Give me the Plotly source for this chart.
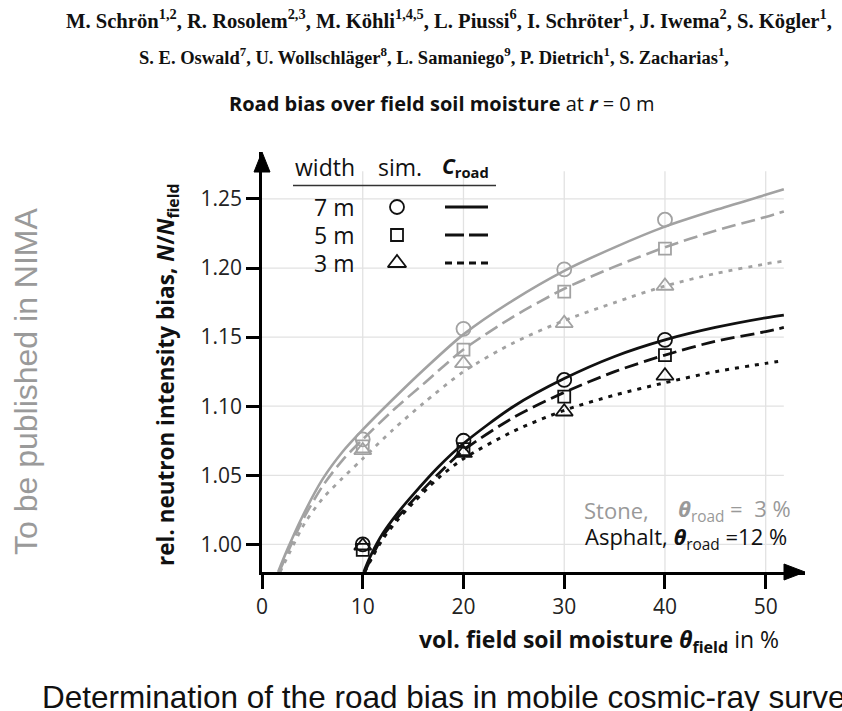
import plotly.graph_objects as go

# ---------------------------------------------------------------- data
theta_sim = [10, 20, 30, 40]

# simulated relative neutron intensity bias (markers)
stone_7m_sim = [1.076, 1.156, 1.199, 1.235]
stone_5m_sim = [1.071, 1.141, 1.183, 1.214]
stone_3m_sim = [1.068, 1.131, 1.160, 1.187]
asphalt_7m_sim = [1.000, 1.075, 1.119, 1.148]
asphalt_5m_sim = [0.996, 1.069, 1.107, 1.137]
asphalt_3m_sim = [0.999, 1.066, 1.096, 1.122]

# road correction curves C_road (stone, theta_road = 3 %)
stone_7m_x = [1.6, 2.5, 4, 6, 8, 10, 13, 16, 20, 25, 30, 35, 40, 45, 50, 51.8]
stone_7m_y = [0.980, 0.996, 1.020, 1.047, 1.067, 1.083, 1.105, 1.126, 1.152,
              1.177, 1.198, 1.215, 1.230, 1.242, 1.253, 1.257]
stone_5m_x = [1.7, 2.6, 4, 6, 8, 10, 13, 16, 20, 25, 30, 35, 40, 45, 50, 51.8]
stone_5m_y = [0.980, 0.995, 1.017, 1.042, 1.061, 1.076, 1.097, 1.116, 1.141,
              1.165, 1.185, 1.201, 1.215, 1.227, 1.237, 1.241]
stone_3m_x = [1.8, 2.8, 4.3, 6, 8, 10, 13, 16, 20, 25, 30, 35, 40, 45, 50, 51.8]
stone_3m_y = [0.980, 0.995, 1.016, 1.033, 1.048, 1.062, 1.083, 1.102, 1.125,
              1.146, 1.162, 1.175, 1.187, 1.196, 1.203, 1.205]

# road correction curves C_road (asphalt, theta_road = 12 %)
asphalt_7m_x = [10.1, 10.8, 12, 13.5, 15, 17.5, 20, 25, 30, 35, 40, 45, 50, 51.8]
asphalt_7m_y = [0.980, 0.992, 1.008, 1.023, 1.036, 1.056, 1.073, 1.100, 1.120,
                1.136, 1.148, 1.157, 1.164, 1.166]
asphalt_5m_x = [10.2, 10.9, 12, 13.5, 15, 17.5, 20, 25, 30, 35, 40, 45, 50, 51.8]
asphalt_5m_y = [0.980, 0.991, 1.006, 1.020, 1.032, 1.051, 1.068, 1.092, 1.110,
                1.125, 1.137, 1.147, 1.154, 1.157]
asphalt_3m_x = [10.2, 10.9, 12, 13.5, 15, 17.5, 20, 25, 30, 35, 40, 45, 50, 51.8]
asphalt_3m_y = [0.980, 0.990, 1.004, 1.018, 1.030, 1.048, 1.062, 1.082, 1.097,
                1.108, 1.117, 1.125, 1.131, 1.133]

x_ticks = [0, 10, 20, 30, 40, 50]
y_ticks = [1.00, 1.05, 1.10, 1.15, 1.20, 1.25]
y_tick_text = ["1.00", "1.05", "1.10", "1.15", "1.20", "1.25"]

# ---------------------------------------------------------------- layout helpers
W, H = 842, 711
L, R, T, B = 262, 37, 152, 139
X_RANGE = [0, 53.9]
Y_RANGE = [0.98, 1.284]
X_GRID_END = 51.8
Y_GRID_END = 1.27

PW, PH = W - L - R, H - T - B


def px(xp):
    """page pixel -> paper x"""
    return (xp - L) / PW


def py(yp):
    """page pixel -> paper y"""
    return (H - B - yp) / PH


def dx(xp):
    """page pixel -> data x"""
    return X_RANGE[0] + (xp - L) / PW * (X_RANGE[1] - X_RANGE[0])


def dy(yp):
    """page pixel -> data y"""
    return Y_RANGE[0] + (H - B - yp) / PH * (Y_RANGE[1] - Y_RANGE[0])


BLACK = "#111111"
GREY = "#a2a2a2"
GRID = "#e2e2e2"
SANS = "Open Sans, Noto Sans, sans-serif"
SERIF = "Liberation Serif, Times New Roman, serif"
ARIAL = "Liberation Sans, Arial, sans-serif"

DASH = "14px,6px"
DOT = "4px,6px"

fig = go.Figure()

# ---------------------------------------------------------------- curves
curves = [
    (stone_7m_x, stone_7m_y, GREY, "solid", 2.6),
    (stone_5m_x, stone_5m_y, GREY, DASH, 2.6),
    (stone_3m_x, stone_3m_y, GREY, DOT, 2.8),
    (asphalt_7m_x, asphalt_7m_y, BLACK, "solid", 2.8),
    (asphalt_5m_x, asphalt_5m_y, BLACK, DASH, 2.8),
    (asphalt_3m_x, asphalt_3m_y, BLACK, DOT, 3.0),
]
for xs, ys, col, dash, w in curves:
    fig.add_trace(go.Scatter(
        x=xs, y=ys, mode="lines",
        line=dict(color=col, width=w, dash=dash, shape="spline", smoothing=0.8),
        hoverinfo="skip", showlegend=False))

# ---------------------------------------------------------------- simulations
sims = [
    (stone_7m_sim, GREY, "circle-open", 14),
    (stone_5m_sim, GREY, "square-open", 12),
    (stone_3m_sim, GREY, "triangle-up-open", 15),
    (asphalt_7m_sim, BLACK, "circle-open", 14),
    (asphalt_5m_sim, BLACK, "square-open", 12),
    (asphalt_3m_sim, BLACK, "triangle-up-open", 15),
]
for ys, col, sym, size in sims:
    fig.add_trace(go.Scatter(
        x=theta_sim, y=ys, mode="markers",
        marker=dict(symbol=sym, size=size, color=col, line=dict(color=col, width=1.8)),
        hoverinfo="skip", showlegend=False, cliponaxis=False))

# ---------------------------------------------------------------- table-style key
row_y = [207, 235, 263]
key_symbols = [("circle-open", 14), ("square-open", 12), ("triangle-up-open", 16)]
for (sym, size), yp in zip(key_symbols, row_y):
    fig.add_trace(go.Scatter(
        x=[dx(397)], y=[dy(yp)], mode="markers",
        marker=dict(symbol=sym, size=size, color=BLACK, line=dict(color=BLACK, width=1.8)),
        hoverinfo="skip", showlegend=False, cliponaxis=False))

shapes = []
# grid
for xv in x_ticks[1:]:
    shapes.append(dict(type="line", xref="x", yref="y", x0=xv, x1=xv,
                       y0=Y_RANGE[0], y1=Y_GRID_END, layer="below",
                       line=dict(color=GRID, width=1.3)))
for yv in y_ticks:
    shapes.append(dict(type="line", xref="x", yref="y", x0=X_RANGE[0], x1=X_GRID_END,
                       y0=yv, y1=yv, layer="below",
                       line=dict(color=GRID, width=1.3)))
# white panels behind key and the material labels
shapes.append(dict(type="rect", xref="paper", yref="paper",
                   x0=px(280), x1=px(507), y0=py(290), y1=py(150),
                   fillcolor="white", line=dict(width=0), layer="below"))
shapes.append(dict(type="rect", xref="paper", yref="paper",
                   x0=px(566), x1=px(800), y0=py(571), y1=py(486),
                   fillcolor="white", line=dict(width=0), layer="below"))
# arrow heads
shapes.append(dict(type="path", xref="paper", yref="paper",
                   path=f"M {px(805)},{py(572)} L {px(784)},{py(564)} L {px(784)},{py(580)} Z",
                   fillcolor="black", line=dict(color="black", width=1)))
shapes.append(dict(type="path", xref="paper", yref="paper",
                   path=f"M {px(262)},{py(152)} L {px(254)},{py(172)} L {px(270)},{py(172)} Z",
                   fillcolor="black", line=dict(color="black", width=1)))
# key rule and line samples
shapes.append(dict(type="line", xref="paper", yref="paper",
                   x0=px(293), x1=px(496), y0=py(185.5), y1=py(185.5),
                   line=dict(color="#333333", width=1.5)))
for dash, yp in zip(["solid", "19px,5px", "7px,5px"], row_y):
    shapes.append(dict(type="line", xref="paper", yref="paper",
                       x0=px(445), x1=px(488), y0=py(yp), y1=py(yp),
                       line=dict(color=BLACK, width=3, dash=dash)))

ann = []


def text(xp, yp, s, size=17, color=BLACK, family=SANS, xanchor="center",
         yanchor="middle", angle=0):
    ann.append(dict(x=px(xp), y=py(yp), xref="paper", yref="paper", text=s,
                    showarrow=False, xanchor=xanchor, yanchor=yanchor,
                    textangle=angle, font=dict(size=size, color=color, family=family)))


# author lines
text(64, 19, "<b>M. Schrön<sup>1,2</sup>, R. Rosolem<sup>2,3</sup>, M. Köhli<sup>1,4,5</sup>, "
     "L. Piussi<sup>6</sup>, I. Schröter<sup>1</sup>, J. Iwema<sup>2</sup>, "
     "S. Kögler<sup>1</sup>,</b>",
     size=20.6, family=SERIF, xanchor="left")
text(137, 56, "<b>S. E. Oswald<sup>7</sup>, U. Wollschläger<sup>8</sup>, L. Samaniego<sup>9</sup>, "
     "P. Dietrich<sup>1</sup>, S. Zacharias<sup>1</sup>,</b>",
     size=18.5, family=SERIF, xanchor="left")

# title
text(442, 104, "<b>Road bias over field soil moisture</b> at <b><i>r</i></b> = 0 m", size=20)

# axis titles
text(167, 375, "<b>rel. neutron intensity bias, <i>N</i>/<i>N</i><sub>field</sub></b>",
     size=22.5, angle=-90)
text(781, 640, "<b>vol. field soil moisture <i>θ</i><sub>field</sub></b> in %",
     size=23, xanchor="right")

# side note
text(26, 381, "To be published in NIMA", size=32, color="#9a9a9a",
     family=ARIAL, angle=-90)

# caption
text(40, 697, "Determination of the road bias in mobile cosmic-ray surveys",
     size=31.5, family=ARIAL, xanchor="left")

# key header and rows
text(325, 167, "width", size=23)
text(400, 167, "sim.", size=23)
text(440, 167, "<b><i>C</i></b><sub><b>road</b></sub>", size=21, xanchor="left")
for lab, yp in zip(["7 m", "5 m", "3 m"], row_y):
    text(356, yp, lab, size=23, xanchor="right")

# material labels
text(582, 510, "Stone,", size=22, color="#999999", xanchor="left")
text(793, 510, "<b><i>θ</i></b><sub>road</sub> =  3 %", size=22, color="#999999",
     xanchor="right")
text(583, 538, "Asphalt, <b><i>θ</i></b><sub>road</sub> =12 %", size=22, xanchor="left")

fig.update_layout(
    width=W, height=H,
    margin=dict(l=L, r=R, t=T, b=B),
    paper_bgcolor="white", plot_bgcolor="white",
    shapes=shapes, annotations=ann,
    showlegend=False,
    xaxis=dict(range=X_RANGE, tickvals=x_ticks, ticktext=[str(v) for v in x_ticks],
               showgrid=False, zeroline=False, showline=True, linecolor="black",
               linewidth=2.6, ticks="outside", ticklen=14, tickwidth=2.6,
               tickcolor="black", tickfont=dict(size=21, family=SANS, color="#222222")),
    yaxis=dict(range=Y_RANGE, tickvals=y_ticks, ticktext=y_tick_text,
               showgrid=False, zeroline=False, showline=True, linecolor="black",
               linewidth=2.6, ticks="outside", ticklen=13, tickwidth=2.6,
               tickcolor="black", tickfont=dict(size=21, family=SANS, color="#222222")),
)

fig.write_html("out.html")
